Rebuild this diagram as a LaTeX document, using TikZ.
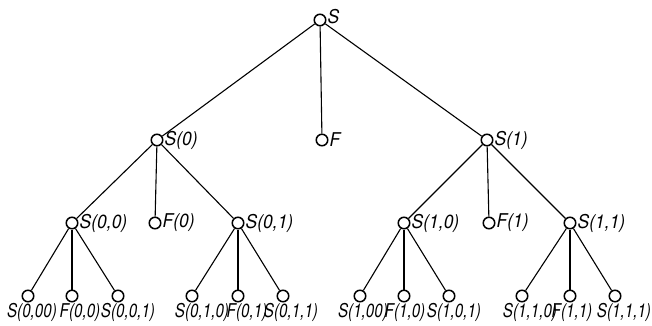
\documentclass[tikz,border=0pt]{standalone}
\usepackage{fontspec}
\setmainfont{TeX Gyre Heros}
\newcommand{\narrowtxt}[1]{\scalebox{0.8}[1]{#1}}
\newcommand{\semitxt}[1]{\scalebox{0.92}[1]{#1}}
\begin{document}
\begin{tikzpicture}[x=1pt,y=-1pt,
  vx/.style={circle,draw,line width=1.5pt,minimum size=11.5pt,inner sep=0pt},
  lbl/.style={font=\fontsize{19}{19}\selectfont\itshape,inner sep=1pt},
  lr/.style={label={[lbl,anchor=west]east:\semitxt{#1}}},
  lb/.style 2 args={label={[lbl,anchor=north,xshift=#1,yshift=0pt]south:\narrowtxt{#2}}},
  edge/.style={line width=1.1pt}]
\useasboundingbox (0,0) rectangle (652,326);
% level 0
\node[vx,label={[lbl,anchor=west,yshift=3pt]east:\semitxt{S}}] (r) at (320,20) {};
% level 1
\node[vx,lr={S(0)}] (s0) at (157,140) {};
\node[vx,lr={F}] (f) at (322,140) {};
\node[vx,lr={S(1)}] (s1) at (487,140) {};
% level 2
\node[vx,lr={S(0,0)}] (s00) at (72,223) {};
\node[vx,lr={F(0)}] (f0) at (155,223) {};
\node[vx,lr={S(0,1)}] (s01) at (238,223) {};
\node[vx,lr={S(1,0)}] (s10) at (404,223) {};
\node[vx,lr={F(1)}] (f1) at (489,223) {};
\node[vx,lr={S(1,1)}] (s11) at (570,223) {};
% leaves
\node[vx,lb={4pt}{S(0,00)}] (s000) at (28,296) {};
\node[vx,lb={8pt}{F(0,0)}] (f00) at (72,296) {};
\node[vx,lb={10pt}{S(0,0,1)}] (s001) at (118,296) {};
\node[vx,lb={10pt}{S(0,1,0)}] (s010) at (192,296) {};
\node[vx,lb={9pt}{F(0,1)}] (f01) at (238,296) {};
\node[vx,lb={8pt}{S(0,1,1)}] (s011) at (283,296) {};
\node[vx,lb={3pt}{S(1,00)}] (s100) at (360,296) {};
\node[vx,lb={1pt}{F(1,0)}] (f10) at (404,296) {};
\node[vx,lb={5pt}{S(1,0,1)}] (s101) at (449,296) {};
\node[vx,lb={8pt}{S(1,1,0)}] (s110) at (522,296) {};
\node[vx,lb={2pt}{F(1,1)}] (f11) at (570,296) {};
\node[vx,lb={9pt}{S(1,1,1)}] (s111) at (615,296) {};
% edges
\foreach \a/\b in {r/s0,r/f,r/s1,
  s0/s00,s0/f0,s0/s01,s1/s10,s1/f1,s1/s11,
  s00/s000,s00/f00,s00/s001,s01/s010,s01/f01,s01/s011,
  s10/s100,s10/f10,s10/s101,s11/s110,s11/f11,s11/s111}
  \draw[edge] (\a) -- (\b);
\end{tikzpicture}
\end{document}
